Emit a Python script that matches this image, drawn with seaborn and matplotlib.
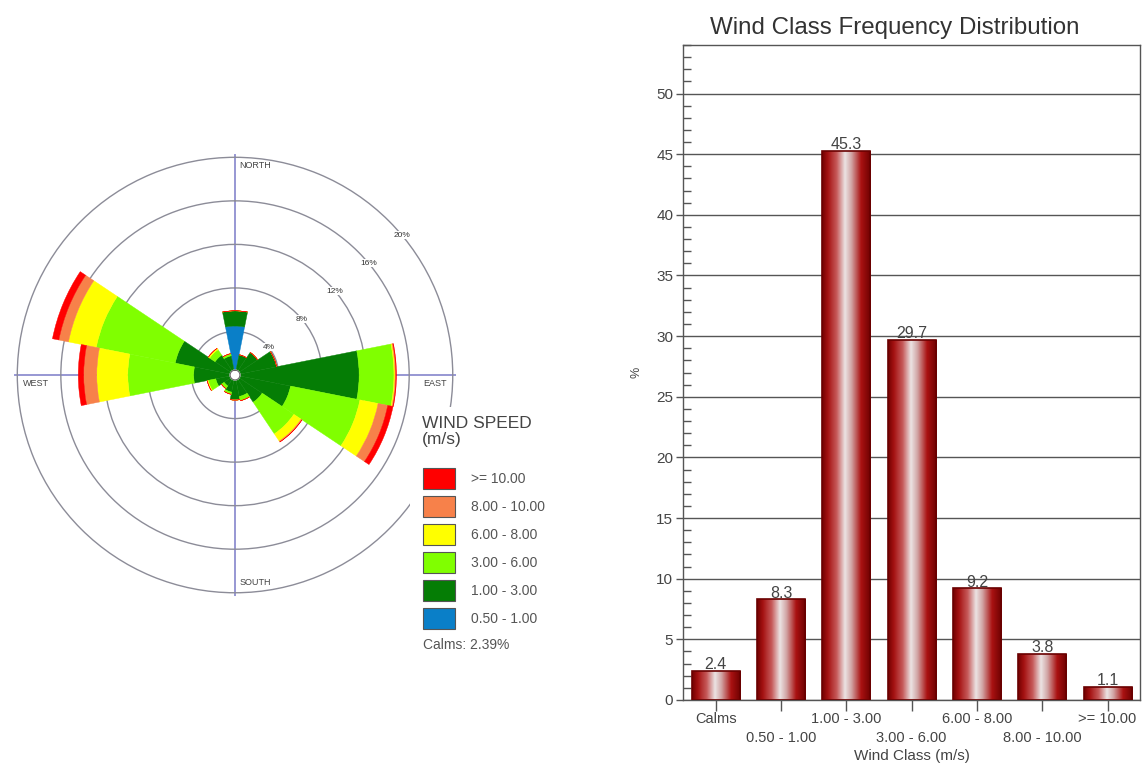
import numpy as np
import pandas as pd
import matplotlib
matplotlib.use("Agg")
import matplotlib.pyplot as plt
import seaborn as sns
from matplotlib.patches import Patch, Rectangle
from matplotlib.colors import LinearSegmentedColormap
from matplotlib.ticker import MultipleLocator, FixedLocator, FixedFormatter

# ---------------- data ----------------
directions = ["N", "NNE", "NE", "ENE", "E", "ESE", "SE", "SSE",
              "S", "SSW", "SW", "WSW", "W", "WNW", "NW", "NNW"]
speed_labels = ["0.50 - 1.00", "1.00 - 3.00", "3.00 - 6.00",
                "6.00 - 8.00", "8.00 - 10.00", ">= 10.00"]
speed_colors = ["#0a7fc8", "#057d05", "#80ff00", "#ffff00", "#f7814a", "#ff0000"]

# percent frequency per direction, per speed class
freq_050_100 = [4.5, 0.3, 0.3, 0.3, 0.3, 0.3, 0.3, 0.3, 0.3, 0.3, 0.3, 0.3, 0.3, 0.3, 0.3, 0.3]
freq_100_300 = [1.4, 1.6, 2.2, 3.6, 11.1, 4.9, 2.7, 1.7, 2.0, 1.3, 0.9, 1.5, 3.5, 5.3, 1.9, 1.5]
freq_300_600 = [0.0, 0.0, 0.0, 0.0, 3.2, 6.5, 3.5, 0.4, 0.0, 0.2, 0.3, 0.7, 6.05, 7.4, 0.6, 0.2]
freq_600_800 = [0.0, 0.0, 0.0, 0.0, 0.1, 1.7, 0.8, 0.0, 0.0, 0.0, 0.0, 0.1, 2.85, 2.6, 0.15, 0.0]
freq_800_1000 = [0.0, 0.0, 0.0, 0.0, 0.08, 0.9, 0.1, 0.0, 0.0, 0.0, 0.0, 0.0, 1.2, 0.9, 0.0, 0.0]
freq_ge_1000 = [0.0, 0.0, 0.0, 0.0, 0.05, 0.5, 0.0, 0.0, 0.0, 0.0, 0.0, 0.0, 0.5, 0.6, 0.0, 0.0]
ring_values = [4, 8, 12, 16, 20]
calms_pct = 2.39

wind_classes = ["Calms", "0.50 - 1.00", "1.00 - 3.00", "3.00 - 6.00",
                "6.00 - 8.00", "8.00 - 10.00", ">= 10.00"]
class_freq = [2.4, 8.3, 45.3, 29.7, 9.2, 3.8, 1.1]

# ---------------- style ----------------
sns.set_theme(style="white")
plt.rcParams["font.family"] = ["Liberation Sans", "DejaVu Sans"]

fig = plt.figure(figsize=(11.44, 7.66), dpi=100)
fig.patch.set_facecolor("white")

# ---------------- wind rose ----------------
rmax = 20.3
ax_r = fig.add_axes([0.01224, 0.2219, 0.3864, 0.577], projection="polar")
ax_r.set_theta_zero_location("N")
ax_r.set_theta_direction(-1)
ax_r.set_ylim(0, rmax)
ax_r.set_axisbelow(True)
ax_r.spines["polar"].set_visible(False)
ax_r.set_thetagrids([0, 90, 180, 270], labels=["", "", "", ""])
ax_r.set_rgrids(ring_values, labels=[""] * len(ring_values))
ax_r.xaxis.grid(True, color="#7a7ac8", lw=1.1)
ax_r.yaxis.grid(True, color="#8c8c98", lw=1.0)
ax_r.set_facecolor("white")

theta = np.deg2rad(np.arange(len(directions)) * 360.0 / len(directions))
width = 2 * np.pi / len(directions)
series = [freq_050_100, freq_100_300, freq_300_600, freq_600_800, freq_800_1000, freq_ge_1000]
bottom = np.zeros(len(directions))
for vals, col in zip(series, speed_colors):
    vals = np.asarray(vals, dtype=float)
    ax_r.bar(theta, vals, width=width, bottom=bottom, color=col,
             edgecolor=col, linewidth=0.3, zorder=2)
    bottom += vals

# calm circle in the middle
tc = np.linspace(0, 2 * np.pi, 120)
rc = np.full_like(tc, 0.45)
ax_r.fill(tc, rc, color="white", zorder=4)
ax_r.plot(tc, rc, color="#666666", lw=0.8, zorder=5)

for v in ring_values:
    ax_r.text(np.deg2rad(50), v, f"{v}%", fontsize=6, ha="center", va="center",
              color="#333333", zorder=6,
              bbox=dict(fc="white", ec="none", pad=0.2))

lab_kw = dict(textcoords="offset points", fontsize=6.5, color="#444444", zorder=6)
ax_r.annotate("NORTH", xy=(0, 20), xytext=(3, -3), ha="left", va="top", **lab_kw)
ax_r.annotate("SOUTH", xy=(np.pi, 20), xytext=(3, 4), ha="left", va="bottom", **lab_kw)
ax_r.annotate("WEST", xy=(1.5 * np.pi, 20), xytext=(4, -3), ha="left", va="top", **lab_kw)
ax_r.annotate("EAST", xy=(0.5 * np.pi, 20), xytext=(-4, -3), ha="right", va="top", **lab_kw)

# white legend panel that sits over the rose rings
fig.add_artist(Rectangle((410 / 1144, 1 - 662 / 766), 154 / 1144, 255 / 766,
                         transform=fig.transFigure, facecolor="white",
                         edgecolor="none", zorder=1))

# legend: title, colour keys, calms note
fig.text(422 / 1144, 1 - 416 / 766, "WIND SPEED\n(m/s)", fontsize=12.5,
         color="#444444", ha="left", va="top", linespacing=1.08, zorder=3)
handles = [Patch(facecolor=c, edgecolor="#555555", lw=0.8) for c in speed_colors[::-1]]
leg = fig.legend(handles, speed_labels[::-1], loc="upper left",
                 bbox_to_anchor=(423 / 1144, 1 - 468 / 766), frameon=False,
                 borderpad=0, borderaxespad=0, fontsize=10,
                 handlelength=2.3, handleheight=1.95, handletextpad=1.15,
                 labelspacing=0.51)
for t in leg.get_texts():
    t.set_color("#555555")
fig.text(423 / 1144, 1 - 645 / 766, f"Calms: {calms_pct:.2f}%", fontsize=10,
         va="center", ha="left", color="#555555", zorder=3)

# ---------------- bar chart ----------------
ax_b = fig.add_axes([0.597, 0.0862, 0.3997, 0.855])
df = pd.DataFrame({"Wind Class": wind_classes, "Frequency": class_freq})
sns.barplot(data=df, x="Wind Class", y="Frequency", ax=ax_b, color="#a01010",
            width=0.735, saturation=1, edgecolor="#6a0000", linewidth=1.2)

grad_cmap = LinearSegmentedColormap.from_list(
    "cyl", [(0.0, "#720000"), (0.12, "#a51212"), (0.3, "#c65a5a"),
            (0.47, "#ece4e4"), (0.6, "#d2a6a6"), (0.8, "#aa1212"), (1.0, "#6c0000")])
grad = grad_cmap(np.linspace(0, 1, 256))[None, :, :]
for p in list(ax_b.patches):
    x0, y0 = p.get_xy()
    w, h = p.get_width(), p.get_height()
    im = ax_b.imshow(grad, extent=[x0, x0 + w, y0, y0 + h], aspect="auto",
                     interpolation="bilinear", zorder=2)
    im.set_clip_path(p)
    p.set_facecolor("none")
    p.set_zorder(3)

ax_b.bar_label(ax_b.containers[0], labels=[f"{v:.1f}" for v in class_freq],
               padding=-1, fontsize=11.5, color="#444444")

ax_b.set_xlim(-0.5, len(wind_classes) - 0.5)
ax_b.set_ylim(0, 54)

# alternate category labels on two rows: even on major ticks, odd on minor ticks
pos_even = [i for i in range(len(wind_classes)) if i % 2 == 0]
pos_odd = [i for i in range(len(wind_classes)) if i % 2 == 1]
ax_b.xaxis.set_major_locator(FixedLocator(pos_even))
ax_b.xaxis.set_major_formatter(FixedFormatter([wind_classes[i] for i in pos_even]))
ax_b.xaxis.set_minor_locator(FixedLocator(pos_odd))
ax_b.xaxis.set_minor_formatter(FixedFormatter([wind_classes[i] for i in pos_odd]))
ax_b.tick_params(axis="x", which="major", direction="inout", length=16, width=1,
                 color="#555555", bottom=True, pad=1, labelsize=10.5, labelcolor="#444444")
ax_b.tick_params(axis="x", which="minor", direction="inout", length=16, width=1,
                 color="#555555", bottom=True, pad=14.5, labelsize=10.5, labelcolor="#444444")

ax_b.yaxis.set_major_locator(MultipleLocator(5))
ax_b.yaxis.set_minor_locator(MultipleLocator(1))
ax_b.tick_params(axis="y", which="major", direction="out", length=5, width=1,
                 color="#555555", labelsize=11, labelcolor="#444444", left=True, pad=2)
ax_b.tick_params(axis="y", which="minor", direction="in", length=6, width=1,
                 color="#555555", left=True)
ax_b.yaxis.grid(True, which="major", color="#555555", lw=1)
ax_b.xaxis.grid(False)
ax_b.set_axisbelow(True)
for s in ax_b.spines.values():
    s.set_visible(True)
    s.set_color("#555555")
    s.set_linewidth(1)
ax_b.set_xlabel("Wind Class (m/s)", fontsize=11, color="#444444", labelpad=3)
ax_b.set_ylabel("%", fontsize=9, color="#444444", labelpad=10)
ax_b.set_title("Wind Class Frequency Distribution", fontsize=17.4, color="#333333",
               x=0.464, pad=8)

fig.savefig("out.png", dpi=100, facecolor="white")
